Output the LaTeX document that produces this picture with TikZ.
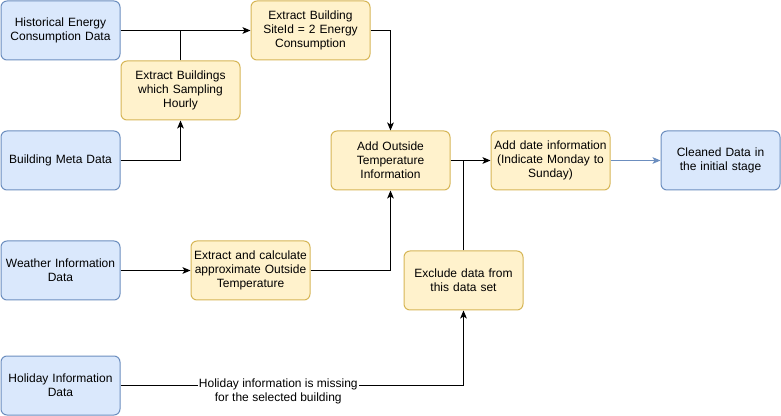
\documentclass[tikz,border=0pt]{standalone}
\usepackage{fontspec}
\setmainfont{Liberation Sans}
\usetikzlibrary{arrows.meta}
\definecolor{bfill}{HTML}{DAE8FC}
\definecolor{bdraw}{HTML}{6C8EBF}
\definecolor{yfill}{HTML}{FFF2CC}
\definecolor{ydraw}{HTML}{D6B656}
\tikzset{
  box/.style={rounded corners=4.5pt, minimum width=89.25pt, minimum height=44.25pt,
    text width=88pt, align=center, font=\fontsize{9}{10.5}\selectfont, inner sep=0pt, line width=0.75pt},
  bluebox/.style={box, fill=bfill, draw=bdraw},
  yelbox/.style={box, fill=yfill, draw=ydraw},
  conn/.style={line width=0.75pt, -{Stealth[length=6pt,width=5pt,inset=1.5pt]}},
  plain/.style={line width=0.75pt},
  blueconn/.style={conn, draw=bdraw, -{Stealth[length=6pt,width=5pt,inset=1.5pt,fill=bdraw]}},
}
\begin{document}
\begin{tikzpicture}[x=0.75pt,y=-0.75pt]
\useasboundingbox (0,0) rectangle (781,416);
\node[bluebox] (hist) at (60.5,30.5) {Historical Energy\\Consumption Data};
\node[bluebox] (meta) at (60.5,160.5) {Building Meta Data};
\node[bluebox] (weather) at (60.5,270.5) {Weather Information\\Data};
\node[bluebox] (holiday) at (60.5,385.5) {Holiday Information\\Data};
\node[yelbox] (hourly) at (180.5,90.5) {Extract Buildings\\which Sampling\\Hourly};
\node[yelbox] (site) at (310.5,30.5) {Extract Building\\SiteId = 2 Energy\\Consumption};
\node[yelbox] (outside) at (390.5,160.5) {Add Outside\\Temperature\\Information};
\node[yelbox] (calc) at (250.5,270.5) {Extract and calculate\\approximate Outside\\Temperature};
\node[yelbox] (exclude) at (463.5,280.5) {Exclude data from\\this data set};
\node[yelbox] (date) at (550.5,160.5) {Add date information\\(Indicate Monday to\\Sunday)};
\node[bluebox] (clean) at (720.5,160.5) {Cleaned Data in\\the initial stage};

\draw[conn] (hist.east) -- (site.west);
\draw[plain] (hourly.north) -- (hourly.north |- hist.east);
\draw[conn] (meta.east) -| (hourly.south);
\draw[conn] (site.east) -| (outside.north);
\draw[conn] (weather.east) -- (calc.west);
\draw[conn] (calc.east) -| (outside.south);
\draw[conn] (outside.east) -- (date.west);
\draw[plain] (exclude.north) -- (exclude.north |- date.west);
\draw[blueconn] (date.east) -- (clean.west);
\draw[conn] (holiday.east) -| (exclude.south)
  node[pos=0.23, fill=white, inner sep=1pt, align=center, font=\fontsize{9}{10.5}\selectfont, yshift=-4.5pt] (lbl) {Holiday information is missing\\for the selected building};
\end{tikzpicture}
\end{document}
